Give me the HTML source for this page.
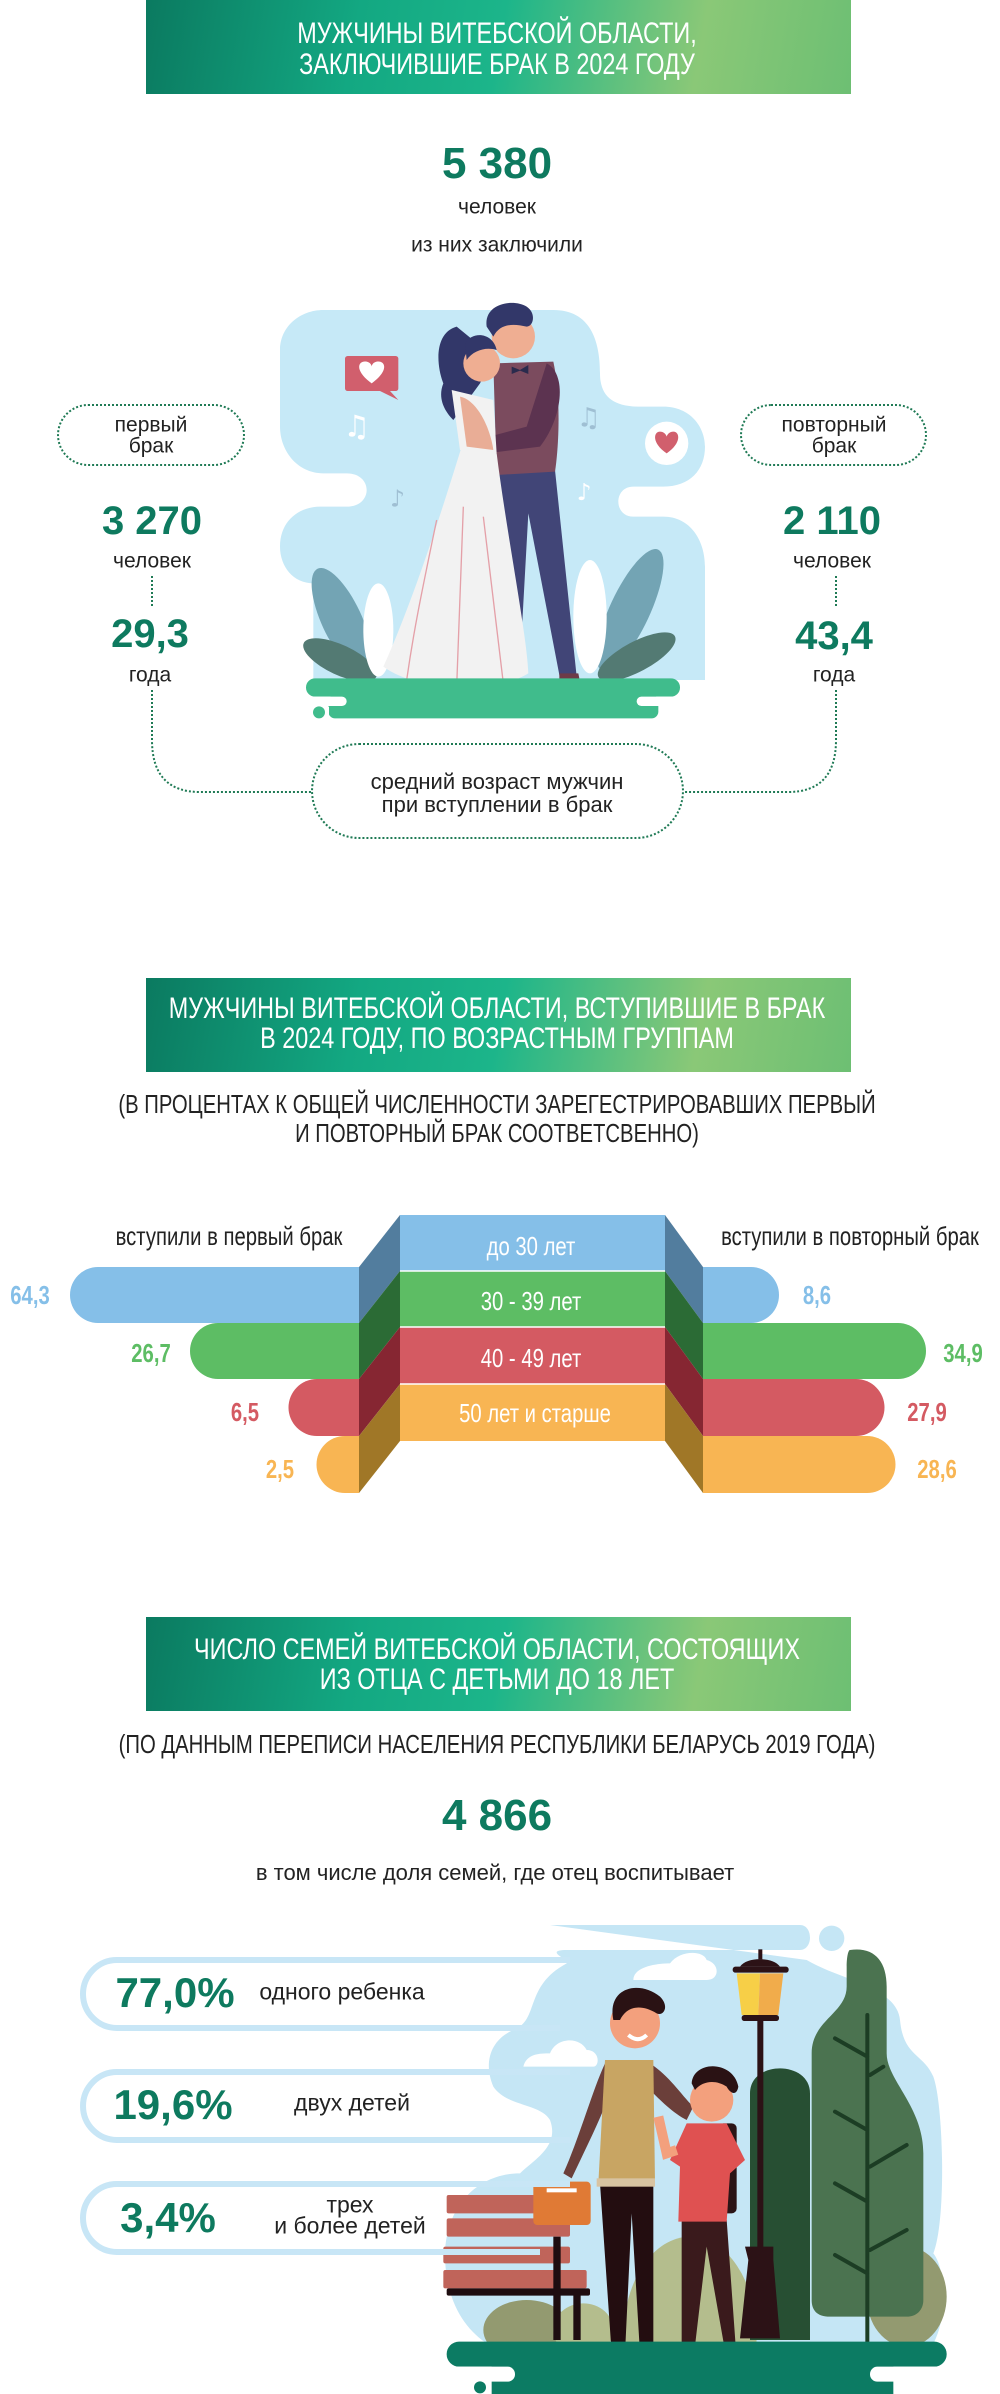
<!DOCTYPE html>
<html><head><meta charset="utf-8">
<style>
body{margin:0;background:#fff;}
#p{position:relative;width:1000px;height:2394px;overflow:hidden;background:#fff;font-family:"Liberation Sans",sans-serif;}
.t{position:absolute;white-space:nowrap;transform:translate(-50%,-50%);line-height:1;}
.c{position:absolute;white-space:nowrap;line-height:1;transform:translate(-50%,-50%) scaleX(0.78);}
.ban{position:absolute;left:146px;width:705px;background:linear-gradient(100deg,#0b7a60 0%,#13a882 30%,#1cb58a 50%,#8ac877 78%,#6dbf73 100%);}
.g{color:#0e7a5f;font-weight:bold;}
.pill{position:absolute;border:2px dotted #1f7a55;border-radius:40px;box-sizing:border-box;}
svg{position:absolute;}
</style></head><body><div id="p">

<!-- Section 1 -->
<div class="ban" style="top:0;height:94px;"></div>
<div class="c" style="left:497px;top:34px;color:#fff;font-size:30px;">МУЖЧИНЫ ВИТЕБСКОЙ ОБЛАСТИ,</div>
<div class="c" style="left:497px;top:65px;color:#fff;font-size:30px;">ЗАКЛЮЧИВШИЕ БРАК В 2024 ГОДУ</div>

<div class="t g" style="left:497px;top:164px;font-size:44px;">5 380</div>
<div class="t" style="left:497px;top:207px;font-size:21px;color:#222;">человек</div>
<div class="t" style="left:497px;top:245px;font-size:21px;color:#222;">из них заключили</div>

<svg style="left:280px;top:300px;" width="440" height="440" viewBox="0 0 1320 1320">
<path fill="#c6e9f7" d="M130,30 H820 C930,30 960,120 960,220 C960,290 1000,320 1080,320 H1150 C1230,320 1275,380 1275,440 C1275,510 1230,560 1150,560 H1060 C1000,560 1000,650 1060,650 H1150 C1230,650 1275,720 1275,800 V1140 H100 V850 C40,850 0,800 0,740 C0,660 60,620 120,620 H200 C280,620 280,520 200,520 H130 C50,520 0,450 0,380 V150 C0,80 60,30 130,30 Z"/>
<rect x="195" y="168" width="160" height="105" rx="8" fill="#d15f6d"/>
<path d="M300,273 L355,300 L330,273Z" fill="#d15f6d"/>
<path d="M275,250 C220,210 235,180 260,185 C270,187 275,195 275,200 C275,195 280,187 290,185 C315,180 330,210 275,250Z" fill="#fff"/>
<circle cx="1160" cy="430" r="65" fill="#fff"/>
<path d="M1160,460 C1115,430 1120,395 1140,395 C1150,395 1158,402 1160,410 C1162,402 1170,395 1180,395 C1200,395 1205,430 1160,460Z" fill="#d15f6d"/>
<text x="190" y="410" font-size="90" fill="#fff" font-family="DejaVu Sans">♫</text>
<text x="890" y="380" font-size="80" fill="#9fbfd3" font-family="DejaVu Sans">♫</text>
<text x="330" y="620" font-size="70" fill="#9fbfd3" font-family="DejaVu Sans">♪</text>
<text x="890" y="600" font-size="70" fill="#fff" font-family="DejaVu Sans">♪</text>
<ellipse cx="185" cy="960" rx="60" ry="170" transform="rotate(-25 185 960)" fill="#73a4b4"/>
<ellipse cx="180" cy="1080" rx="120" ry="45" transform="rotate(25 180 1080)" fill="#537a73"/>
<ellipse cx="295" cy="990" rx="45" ry="140" fill="#fff"/>
<ellipse cx="1050" cy="930" rx="60" ry="200" transform="rotate(25 1050 930)" fill="#73a4b4"/>
<ellipse cx="1070" cy="1070" rx="130" ry="45" transform="rotate(-28 1070 1070)" fill="#537a73"/>
<ellipse cx="930" cy="950" rx="50" ry="170" fill="#fff"/>
<!-- man -->
<path d="M650,520 L825,510 L890,1130 L840,1135 L745,640 L725,1000 L700,1000 Z" fill="#414577"/>
<path d="M838,1120 L895,1120 L905,1170 L838,1170Z" fill="#6d3b48"/>
<path d="M640,190 L820,185 C845,300 835,450 825,515 L650,525 Z" fill="#7b4b5e"/>
<path d="M800,190 C860,220 850,350 780,440 L620,460 L590,420 L740,380 Z" fill="#5c3350"/>
<circle cx="700" cy="110" r="65" fill="#efae92"/>
<path d="M620,80 C610,10 700,-5 740,20 C770,40 760,80 740,80 C700,70 660,70 640,110Z" fill="#323769"/>
<path d="M695,200 L720,210 L745,195 L745,222 L720,212 L695,222Z" fill="#2a2b4d"/>
<!-- woman -->
<path d="M530,80 C460,100 470,200 490,250 C470,300 500,340 520,360 L600,250 L640,170 Z" fill="#323769"/>
<circle cx="605" cy="190" r="55" fill="#efae92"/>
<path d="M555,130 C580,90 640,100 650,150 C620,140 580,150 560,180Z" fill="#323769"/>
<path d="M515,270 L640,300 L650,460 L540,450 Z" fill="#f2f2f2"/>
<path d="M545,440 L650,460 C680,700 740,1000 745,1120 C650,1180 420,1180 310,1100 C400,900 480,650 545,440 Z" fill="#f2f2f2"/>
<path d="M540,290 C590,300 630,380 640,450 L560,440Z" fill="#e9ad96"/>
<path d="M470,660 C420,900 400,1000 380,1140 M550,620 L530,1160 M610,650 L670,1150" stroke="#e4a0a8" stroke-width="4" fill="none"/>
<!-- grass -->
<rect x="78" y="1135" width="1122" height="55" rx="27" fill="#40bc8c"/>
<rect x="145" y="1185" width="990" height="70" rx="20" fill="#40bc8c"/>
<rect x="0" y="1190" width="200" height="28" rx="14" fill="#fff"/>
<rect x="1070" y="1190" width="250" height="28" rx="14" fill="#fff"/>
<circle cx="117" cy="1237" r="18" fill="#40bc8c"/>
<rect x="135" y="1220" width="12" height="40" fill="#fff"/>
</svg>

<div class="pill" style="left:57px;top:404px;width:188px;height:62px;"></div>
<div class="t" style="left:151px;top:425px;font-size:21px;color:#222;">первый</div>
<div class="t" style="left:151px;top:446px;font-size:21px;color:#222;">брак</div>
<div class="pill" style="left:740px;top:404px;width:187px;height:62px;"></div>
<div class="t" style="left:834px;top:425px;font-size:21px;color:#222;">повторный</div>
<div class="t" style="left:834px;top:446px;font-size:21px;color:#222;">брак</div>

<div class="t g" style="left:152px;top:521px;font-size:40px;">3 270</div>
<div class="t" style="left:152px;top:561px;font-size:21px;color:#222;">человек</div>
<div class="t g" style="left:150px;top:634px;font-size:40px;">29,3</div>
<div class="t" style="left:150px;top:675px;font-size:21px;color:#222;">года</div>
<div class="t g" style="left:832px;top:521px;font-size:40px;">2 110</div>
<div class="t" style="left:832px;top:561px;font-size:21px;color:#222;">человек</div>
<div class="t g" style="left:834px;top:636px;font-size:40px;">43,4</div>
<div class="t" style="left:834px;top:675px;font-size:21px;color:#222;">года</div>

<svg style="left:0;top:0;" width="1000" height="860">
<g stroke="#1f7a55" stroke-width="2" stroke-dasharray="2,2" fill="none">
<path d="M152,576 V606"/>
<path d="M152,690 V740 Q152,792 200,792 H311"/>
<path d="M836,576 V606"/>
<path d="M836,690 V740 Q836,792 788,792 H684"/>
</g>
</svg>
<div class="pill" style="left:311px;top:743px;width:373px;height:96px;border-radius:50px;"></div>
<div class="t" style="left:497px;top:782px;font-size:22px;color:#222;">средний возраст мужчин</div>
<div class="t" style="left:497px;top:805px;font-size:22px;color:#222;">при вступлении в брак</div>

<!-- Section 2 -->
<div class="ban" style="top:978px;height:94px;"></div>
<div class="c" style="left:497px;top:1009px;color:#fff;font-size:30px;">МУЖЧИНЫ ВИТЕБСКОЙ ОБЛАСТИ, ВСТУПИВШИЕ В БРАК</div>
<div class="c" style="left:497px;top:1039px;color:#fff;font-size:30px;">В 2024 ГОДУ, ПО ВОЗРАСТНЫМ ГРУППАМ</div>
<div class="c" style="left:497px;top:1104px;color:#222;font-size:26px;">(В ПРОЦЕНТАХ К ОБЩЕЙ ЧИСЛЕННОСТИ ЗАРЕГЕСТРИРОВАВШИХ ПЕРВЫЙ</div>
<div class="c" style="left:497px;top:1133px;color:#222;font-size:26px;">И ПОВТОРНЫЙ БРАК СООТВЕТСВЕННО)</div>

<svg style="left:0;top:1200px;" width="1000" height="310" viewBox="0 1200 1000 310">
<!-- bars -->
<path d="M98,1267 H359 V1323 H98 A28,28 0 0 1 98,1267Z" fill="#85bfe8"/>
<path d="M218,1323 H359 V1379 H218 A28,28 0 0 1 218,1323Z" fill="#5dbd64"/>
<path d="M317,1379 H359 V1436 H317 A28,28 0 0 1 317,1379Z" fill="#d45a62"/>
<path d="M345,1436 H359 V1493 H345 A28,28 0 0 1 345,1436Z" fill="#f8b553"/>
<path d="M703,1267 H751 A28,28 0 0 1 751,1323 H703Z" fill="#85bfe8"/>
<path d="M703,1323 H898 A28,28 0 0 1 898,1379 H703Z" fill="#5dbd64"/>
<path d="M703,1379 H856 A28.5,28.5 0 0 1 856,1436 H703Z" fill="#d45a62"/>
<path d="M703,1436 H867 A28.5,28.5 0 0 1 867,1493 H703Z" fill="#f8b553"/>
<!-- sides -->
<path d="M400,1215 V1271 L359,1323 V1267Z" fill="#527d9e"/>
<path d="M400,1271 V1327 L359,1379 V1323Z" fill="#2b6b35"/>
<path d="M400,1327 V1384 L359,1436 V1379Z" fill="#862632"/>
<path d="M400,1384 V1441 L359,1493 V1436Z" fill="#a07727"/>
<path d="M665,1215 V1271 L703,1323 V1267Z" fill="#527d9e"/>
<path d="M665,1271 V1327 L703,1379 V1323Z" fill="#2b6b35"/>
<path d="M665,1327 V1384 L703,1436 V1379Z" fill="#862632"/>
<path d="M665,1384 V1441 L703,1493 V1436Z" fill="#a07727"/>
<!-- column -->
<rect x="400" y="1215" width="265" height="56" fill="#85bfe8"/>
<rect x="400" y="1271" width="265" height="56" fill="#5dbd64"/>
<rect x="400" y="1327" width="265" height="57" fill="#d45a62"/>
<rect x="400" y="1384" width="265" height="57" fill="#f8b553"/>
<line x1="400" y1="1271" x2="665" y2="1271" stroke="#fff" stroke-width="1.5"/>
<line x1="400" y1="1327" x2="665" y2="1327" stroke="#fff" stroke-width="1.5"/>
<line x1="400" y1="1384" x2="665" y2="1384" stroke="#fff" stroke-width="1.5"/>
</svg>
<div class="c" style="left:531px;top:1246px;color:#fff;font-size:26px;">до 30 лет</div>
<div class="c" style="left:531px;top:1301px;color:#fff;font-size:26px;">30 - 39 лет</div>
<div class="c" style="left:531px;top:1358px;color:#fff;font-size:26px;">40 - 49 лет</div>
<div class="c" style="left:535px;top:1413px;color:#fff;font-size:26px;">50 лет и старше</div>
<div class="c" style="left:229px;top:1236px;color:#222;font-size:26px;">вступили в первый брак</div>
<div class="c" style="left:850px;top:1236px;color:#222;font-size:26px;">вступили в повторный брак</div>
<div class="c" style="left:30px;top:1295px;color:#85bfe8;font-size:26px;font-weight:bold;">64,3</div>
<div class="c" style="left:151px;top:1353px;color:#5dbd64;font-size:26px;font-weight:bold;">26,7</div>
<div class="c" style="left:245px;top:1412px;color:#d45a62;font-size:26px;font-weight:bold;">6,5</div>
<div class="c" style="left:280px;top:1469px;color:#f8b553;font-size:26px;font-weight:bold;">2,5</div>
<div class="c" style="left:817px;top:1295px;color:#85bfe8;font-size:26px;font-weight:bold;">8,6</div>
<div class="c" style="left:963px;top:1353px;color:#5dbd64;font-size:26px;font-weight:bold;">34,9</div>
<div class="c" style="left:927px;top:1412px;color:#d45a62;font-size:26px;font-weight:bold;">27,9</div>
<div class="c" style="left:937px;top:1469px;color:#f8b553;font-size:26px;font-weight:bold;">28,6</div>

<!-- Section 3 -->
<div class="ban" style="top:1617px;height:94px;"></div>
<div class="c" style="left:497px;top:1650px;color:#fff;font-size:30px;">ЧИСЛО СЕМЕЙ ВИТЕБСКОЙ ОБЛАСТИ, СОСТОЯЩИХ</div>
<div class="c" style="left:497px;top:1680px;color:#fff;font-size:30px;">ИЗ ОТЦА С ДЕТЬМИ ДО 18 ЛЕТ</div>
<div class="c" style="left:497px;top:1744px;color:#222;font-size:26px;">(ПО ДАННЫМ ПЕРЕПИСИ НАСЕЛЕНИЯ РЕСПУБЛИКИ БЕЛАРУСЬ 2019 ГОДА)</div>
<div class="t g" style="left:497px;top:1816px;font-size:44px;">4 866</div>
<div class="t" style="left:495px;top:1873px;font-size:22px;color:#222;">в том числе доля семей, где отец воспитывает</div>

<svg style="left:440px;top:1920px;" width="520" height="474" viewBox="0 0 1560 1422">
<path fill="#c5e6f5" d="M330,15 H1080 C1120,15 1120,90 1080,90 H380 C340,90 340,100 380,120 V130 C250,200 300,300 220,330 C150,360 130,430 160,500 C200,560 300,550 330,600 C360,680 280,720 240,760 C120,760 20,850 15,1000 C15,1150 80,1230 140,1270 H1480 C1520,1200 1520,1050 1480,1000 C1520,900 1510,550 1480,470 C1450,400 1390,410 1380,300 C1370,200 1200,180 1100,120 Z"/>
<circle cx="1175" cy="55" r="38" fill="#c5e6f5"/>
<path d="M580,180 C580,140 650,130 690,130 C720,90 790,90 800,120 C840,130 840,180 800,180Z" fill="#fff"/>
<path d="M250,440 C260,400 300,400 330,400 C350,350 420,350 440,390 C480,390 480,440 460,440Z" fill="#fff"/>
<!-- hills -->
<ellipse cx="750" cy="1250" rx="200" ry="300" fill="#b4bd8d"/>
<ellipse cx="1400" cy="1130" rx="120" ry="150" fill="#939a70"/>
<ellipse cx="260" cy="1230" rx="130" ry="90" fill="#939a70"/>
<ellipse cx="430" cy="1230" rx="90" ry="80" fill="#b4bd8d"/>
<!-- trees -->
<path d="M930,1260 V520 C930,420 1110,420 1110,520 V1260Z" fill="#274f33"/>
<path d="M1230,90 C1300,80 1340,120 1340,200 V400 C1340,480 1450,560 1450,700 V1140 C1450,1170 1430,1190 1400,1190 H1170 C1130,1190 1115,1170 1115,1140 V400 C1115,300 1220,280 1220,200 V140 C1220,110 1225,90 1230,90Z" fill="#4b7350"/>
<path d="M1282,285 V1265 M1185,355 L1282,410 M1290,465 L1330,440 M1185,575 L1282,630 M1290,740 L1400,675 M1185,790 L1282,845 M1290,990 L1400,930 M1185,1005 L1282,1060" stroke="#1c3d24" stroke-width="12" fill="none" stroke-linecap="round"/>
<!-- lamp -->
<rect x="952" y="290" width="18" height="700" fill="#2c1216"/>
<path d="M915,980 H1000 V1020 L1020,1255 H900 L925,1020Z" fill="#2c1216"/>
<path d="M890,160 L960,160 L955,285 L905,285Z" fill="#f7cf47"/>
<path d="M960,160 L1030,160 L1015,285 L955,285Z" fill="#f1ac4b"/>
<rect x="878" y="140" width="168" height="18" rx="8" fill="#2c1216"/>
<rect x="905" y="285" width="112" height="18" rx="8" fill="#2c1216"/>
<path d="M900,140 C920,110 1000,110 1020,140Z" fill="#2c1216"/>
<rect x="955" y="88" width="12" height="30" fill="#2c1216"/>
<!-- bench -->
<rect x="20" y="825" width="270" height="55" rx="6" fill="#c0645a"/>
<rect x="20" y="895" width="370" height="55" rx="6" fill="#c0645a"/>
<rect x="10" y="980" width="380" height="50" rx="6" fill="#c0645a"/>
<rect x="10" y="1050" width="430" height="55" rx="6" fill="#c0645a"/>
<rect x="20" y="1105" width="430" height="22" rx="6" fill="#1e0d10"/>
<rect x="340" y="950" width="22" height="310" fill="#1e0d10"/>
<rect x="400" y="1125" width="22" height="135" fill="#1e0d10"/>
<!-- father -->
<path d="M480,790 H640 L640,1300 H600 L575,880 L555,1300 H515Z" fill="#230d10"/>
<path d="M460,1300 C480,1290 530,1285 560,1295 V1335 H460Z" fill="#f0c55e"/>
<path d="M605,1295 C640,1290 655,1310 655,1335 H605Z" fill="#f0c55e"/>
<path d="M500,420 C460,500 420,650 370,760 L395,775 C440,680 480,600 510,520Z" fill="#6b3f3a"/>
<path d="M630,430 C690,470 720,520 760,560 L740,600 C700,580 660,540 630,510Z" fill="#6b3f3a"/>
<path d="M495,420 L640,420 L645,790 L475,790 Z" fill="#c8a563"/>
<rect x="470" y="775" width="175" height="25" fill="#d8c3a1"/>
<circle cx="585" cy="310" r="75" fill="#f3a07d"/>
<path d="M520,300 C500,200 600,180 660,230 C690,260 670,290 650,280 C600,250 560,260 540,300Z" fill="#2a1214"/>
<path d="M565,345 Q595,370 620,345" stroke="#fff" stroke-width="12" fill="none"/>
<!-- briefcase -->
<rect x="280" y="785" width="172" height="130" rx="12" fill="#e07a35"/>
<rect x="320" y="805" width="90" height="12" fill="#fff"/>
<!-- son -->
<path d="M725,900 H860 L890,1320 H860 L800,980 L760,1320 H725Z" fill="#3a1a1c"/>
<path d="M680,1310 C700,1300 740,1300 750,1310 V1335 H680Z" fill="#e04a4a"/>
<path d="M860,1305 H900 V1335 H860Z" fill="#e04a4a"/>
<rect x="835" y="610" width="55" height="270" rx="15" fill="#2b1416"/>
<path d="M740,610 H860 L915,720 L870,760 L860,905 H715 L720,740 L690,720Z" fill="#df5151"/>
<path d="M655,590 L680,700 L710,690" stroke="#f3a07d" stroke-width="30" fill="none"/>
<circle cx="815" cy="540" r="65" fill="#f3a07d"/>
<path d="M755,490 C760,420 880,420 895,500 C890,530 870,520 860,500 C830,480 790,480 765,510Z" fill="#2a1214"/>
<!-- ground -->
<rect x="20" y="1265" width="1500" height="75" rx="37" fill="#0c7b63"/>
<rect x="155" y="1330" width="1205" height="92" fill="#0c7b63"/>
<rect x="0" y="1340" width="225" height="45" rx="22" fill="#fff"/>
<rect x="1290" y="1340" width="270" height="45" rx="22" fill="#fff"/>
<circle cx="120" cy="1402" r="18" fill="#0c7b63"/>
</svg>

<!-- pills -->
<svg style="left:0;top:1940px;" width="600" height="330">
<g fill="none" stroke="#c8e6f6" stroke-width="6">
<path d="M570,20 H117 A34,34 0 0 0 117,88 H560"/>
<path d="M570,132 H117 A34,34 0 0 0 117,200 H570"/>
<path d="M570,244 H117 A34,34 0 0 0 117,312 H540"/>
</g>
</svg>
<div class="t g" style="left:175px;top:1993px;font-size:42px;">77,0%</div>
<div class="t" style="left:342px;top:1992px;font-size:23px;color:#222;">одного ребенка</div>
<div class="t g" style="left:173px;top:2105px;font-size:42px;">19,6%</div>
<div class="t" style="left:352px;top:2103px;font-size:23px;color:#222;">двух детей</div>
<div class="t g" style="left:168px;top:2218px;font-size:42px;">3,4%</div>
<div class="t" style="left:350px;top:2205px;font-size:23px;color:#222;">трех</div>
<div class="t" style="left:350px;top:2226px;font-size:23px;color:#222;">и более детей</div>

</div></body></html>
